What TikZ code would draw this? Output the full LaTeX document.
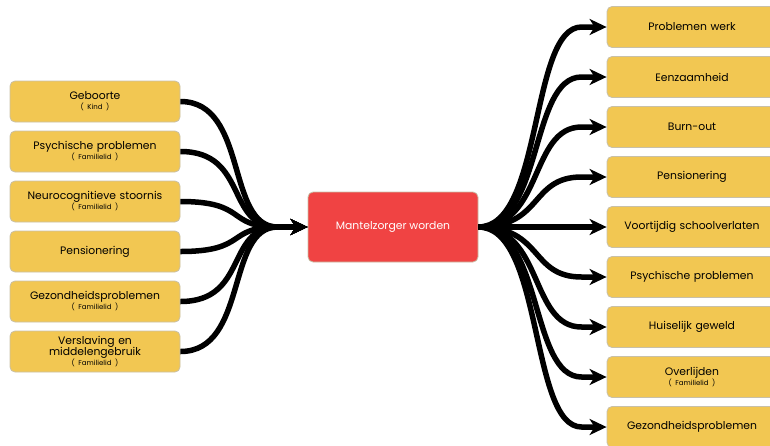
\documentclass[tikz,border=0pt]{standalone}
\usepackage{fontspec}
\setmainfont{Poppins}
\usetikzlibrary{arrows.meta,calc}
\definecolor{boxfill}{HTML}{F2C752}
\definecolor{boxline}{HTML}{C8C0A8}
\definecolor{redfill}{HTML}{F04343}
\tikzset{
  ybox/.style={draw=boxline, line width=0.8pt, fill=boxfill, rounded corners=5pt,
    minimum width=170pt, minimum height=41pt, text width=166pt, align=center,
    inner sep=1pt, font=\fontsize{10.8}{12}\selectfont},
  cbox/.style={draw=boxline, line width=0.8pt, fill=redfill, rounded corners=5pt,
    minimum width=170pt, minimum height=70pt, align=center, text=white,
    font=\fontsize{10.8}{12}\selectfont},
  conn/.style={line width=5.5pt, -{Stealth[length=17pt,width=16pt,inset=5pt]}},
}
\newcommand{\subl}[1]{\\[-2pt]{\fontsize{7}{8}\selectfont ( #1 )}}
\begin{document}
\begin{tikzpicture}[x=1pt,y=-1pt]
\useasboundingbox (0,0) rectangle (770,445);
\node[cbox] (c) at (393,227) {Mantelzorger worden};
% left
\node[ybox] (l1) at (95,101.5) {Geboorte\subl{Kind}};
\node[ybox] (l2) at (95,151.5) {Psychische problemen\subl{Familielid}};
\node[ybox] (l3) at (95,201.5) {Neurocognitieve stoornis\subl{Familielid}};
\node[ybox] (l4) at (95,251.5) {Pensionering};
\node[ybox] (l5) at (95,301.5) {Gezondheidsproblemen\subl{Familielid}};
\node[ybox] (l6) at (95,351.5) {Verslaving en\\[-1pt] middelengebruik\subl{Familielid}};
% right
\node[ybox] (r1) at (692,27) {Problemen werk};
\node[ybox] (r2) at (692,77) {Eenzaamheid};
\node[ybox] (r3) at (692,127) {Burn-out};
\node[ybox] (r4) at (692,177) {Pensionering};
\node[ybox] (r5) at (692,227) {Voortijdig schoolverlaten};
\node[ybox] (r6) at (692,277) {Psychische problemen};
\node[ybox] (r7) at (692,327) {Huiselijk geweld};
\node[ybox] (r8) at (692,377) {Overlijden\subl{Familielid}};
\node[ybox] (r9) at (692,427) {Gezondheidsproblemen};
% connectors
\foreach \i in {1,...,6}{
  \draw[conn] (l\i.east) .. controls +(68,0) and +(-52,0) .. ($(c.west)+(-30,0)$) -- (c.west);
}
\foreach \i in {1,...,9}{
  \draw[conn] (c.east) .. controls +(65,0) and +(-52,0) .. ($(r\i.west)+(-25,0)$) -- (r\i.west);
}
\end{tikzpicture}
\end{document}
